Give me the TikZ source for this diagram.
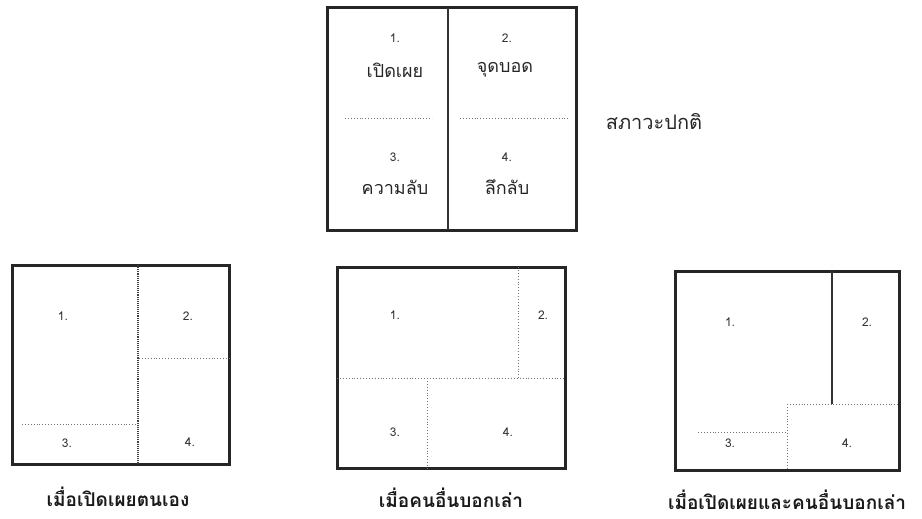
\documentclass[tikz,border=0pt]{standalone}
\usepackage{fontspec}
\newfontfamily\thaifont[Script=Thai]{Loma}
\begin{document}
\begin{tikzpicture}[x=1pt,y=-1pt,
  frame/.style={line width=3pt,draw=black!85},
  solidline/.style={line width=1.4pt,draw=black!80},
  dotline/.style={line width=0.9pt,draw=black!55,dotted},
  darkdot/.style={line width=1.1pt,draw=black!75,densely dotted},
  num/.style={font=\thaifont\fontsize{12}{12}\selectfont,text=black!80,inner sep=0pt},
  word/.style={font=\thaifont\fontsize{18}{18}\selectfont,text=black!85,inner sep=0pt},
  caption/.style={font=\thaifont\bfseries\fontsize{19}{19}\selectfont,text=black!90,inner sep=0pt}]
\useasboundingbox (0,0) rectangle (922,519);
% ---- top box (normal state)
\draw[frame] (327,8) rectangle (576,230);
\draw[solidline] (448,8) -- (448,230);
\draw[dotline] (345,118) -- (432,118);
\draw[dotline] (460,118) -- (570,118);
\node[num]  (t1)  at (395,38) {1.};
\node[word] (t1w) at (395,70) {เปิดเผย};
\node[num]  (t2)  at (507,38) {2.};
\node[word] (t2w) at (505,70) {จุดบอด};
\node[num]  (t3)  at (395,157) {3.};
\node[word] (t3w) at (395,187) {ความลับ};
\node[num]  (t4)  at (507,157) {4.};
\node[word] (t4w) at (507,187) {ลึกลับ};
\node[word,font=\thaifont\fontsize{20}{20}\selectfont] (state) at (654,122) {สภาวะปกติ};
% ---- bottom left (self disclosure)
\draw[frame] (12,265) rectangle (229,464);
\draw[darkdot] (138,265) -- (138,464);
\draw[dotline] (139,358) -- (229,358);
\draw[dotline] (22,424) -- (137,424);
\node[num] (a1) at (63,316) {1.};
\node[num] (a2) at (188,316) {2.};
\node[num] (a3) at (67,443) {3.};
\node[num] (a4) at (190,442) {4.};
\node[caption] (ca) at (118,497) {เมื่อเปิดเผยตนเอง};
% ---- bottom middle (feedback from others)
\draw[frame] (337,267) rectangle (565,468);
\draw[dotline] (518,267) -- (518,378);
\draw[dotline] (337,378) -- (565,378);
\draw[dotline] (427,378) -- (427,468);
\node[num] (b1) at (395,315) {1.};
\node[num] (b2) at (543,315) {2.};
\node[num] (b3) at (395,432) {3.};
\node[num] (b4) at (508,432) {4.};
\node[caption] (cb) at (451,498) {เมื่อคนอื่นบอกเล่า};
% ---- bottom right (both)
\draw[frame] (675,271) rectangle (899,470);
\draw[solidline] (832,271) -- (832,404);
\draw[dotline] (787,404) -- (899,404);
\draw[dotline] (787,404) -- (787,470);
\draw[dotline] (698,432) -- (786,432);
\node[num] (c1) at (730,322) {1.};
\node[num] (c2) at (867,322) {2.};
\node[num] (c3) at (730,443) {3.};
\node[num] (c4) at (847,443) {4.};
\node[caption] (cc) at (787,500) {เมื่อเปิดเผยและคนอื่นบอกเล่า};
\end{tikzpicture}
\end{document}
